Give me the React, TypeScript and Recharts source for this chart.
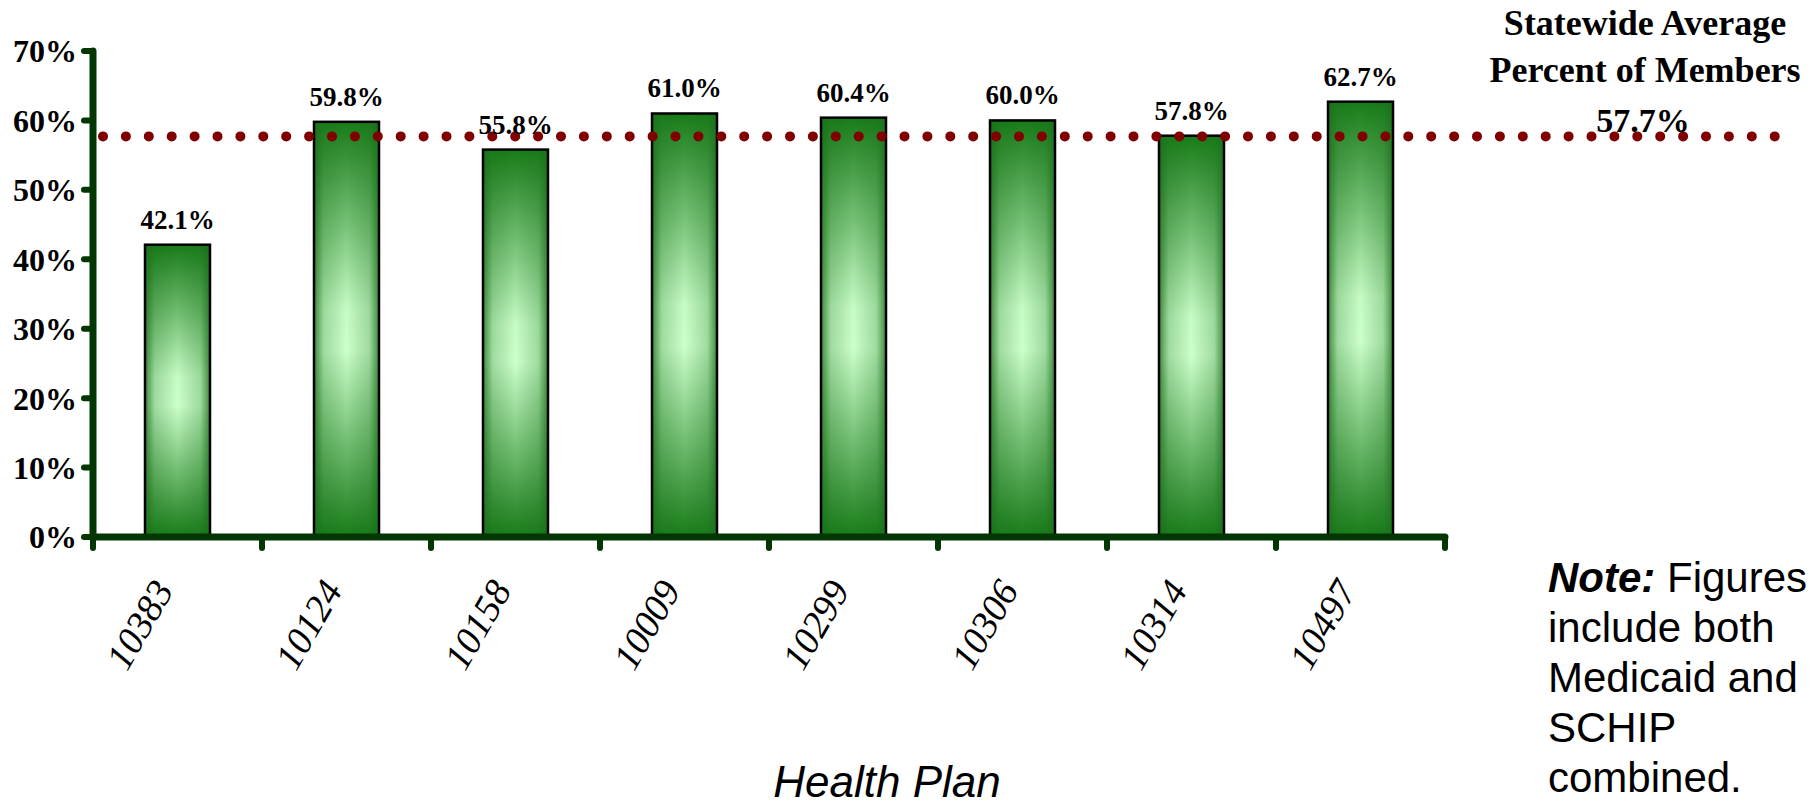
import React from "react";
import { BarChart, Bar, XAxis, YAxis, ReferenceLine, LabelList } from "recharts";

// health plan ids along the x axis
const plans = ["10383", "10124", "10158", "10009", "10299", "10306", "10314", "10497"];
// percent of members per plan
const percentMembers = [42.1, 59.8, 55.8, 61.0, 60.4, 60.0, 57.8, 62.7];
const yTicks = [0, 10, 20, 30, 40, 50, 60, 70];
const statewideAverage = 57.7;
const averageTitle = ["Statewide Average", "Percent of Members"];
const noteLines = ["include both", "Medicaid and", "SCHIP", "combined."];

const rows = plans.map((plan, i) => ({ plan, value: percentMembers[i] }));

const axisGreen = "#023602";
const serif = "'Liberation Serif', 'Times New Roman', serif";
const sans = "'Liberation Sans', Arial, sans-serif";

const GradientBar = (props: any) => {
  const { x, y, width, height } = props;
  if (!height || height <= 0) return null;
  return (
    <g>
      <rect x={x} y={y} width={width} height={height} fill="url(#barVert)" />
      <rect x={x} y={y} width={width} height={height} fill="url(#barHorz)" />
      <rect x={x} y={y} width={width} height={height} fill="none" stroke="#000" strokeWidth={2.5} />
    </g>
  );
};

// label plus the little stubs that sit on the boundaries between plans
const PlanTick = (props: any) => {
  const { x, y, payload, index } = props;
  const half = payload.offset || 0;
  const stub = (sx: number) => (
    <line x1={sx} y1={y} x2={sx} y2={y + 11} stroke={axisGreen} strokeWidth={6} strokeLinecap="round" />
  );
  return (
    <g>
      {stub(x - half)}
      {index === plans.length - 1 && stub(x + half)}
      <g transform={`translate(${x - 3},${y + 53})`}>
        <text
          textAnchor="end"
          transform="rotate(-60)"
          fontFamily={serif}
          fontStyle="italic"
          fontSize={38}
          fill="#000"
        >
          {payload.value}
        </text>
      </g>
    </g>
  );
};

// dotted average line, carried on past the plot toward the legend text
const AverageLine = (props: any) => {
  const { x1, x2, y1 } = props;
  const span = x2 - x1;
  return (
    <line
      x1={x1 + 10}
      y1={y1}
      x2={x2 + span * 0.245}
      y2={y1}
      stroke="#800000"
      strokeWidth={10}
      strokeDasharray="0 22.9"
      strokeLinecap="round"
    />
  );
};

export default function App() {
  return (
    <div style={{ position: "fixed", left: 0, top: 0, width: 1816, height: 807, background: "#fff" }}>
      <BarChart
        width={1816}
        height={807}
        data={rows}
        margin={{ top: 51, right: 371, left: 0, bottom: 0 }}
        barSize={65}
      >
        <defs>
          <linearGradient id="barVert" x1="0" y1="0" x2="0" y2="1">
            <stop offset="0%" stopColor="#187c18" />
            <stop offset="45%" stopColor="#c6fbc6" />
            <stop offset="55%" stopColor="#ccffcc" />
            <stop offset="100%" stopColor="#187c18" />
          </linearGradient>
          <linearGradient id="barHorz" x1="0" y1="0" x2="1" y2="0">
            <stop offset="0%" stopColor="#1a6e1a" stopOpacity={0.8} />
            <stop offset="15%" stopColor="#1a6e1a" stopOpacity={0.25} />
            <stop offset="50%" stopColor="#1a6e1a" stopOpacity={0} />
            <stop offset="85%" stopColor="#1a6e1a" stopOpacity={0.25} />
            <stop offset="100%" stopColor="#1a6e1a" stopOpacity={0.8} />
          </linearGradient>
        </defs>
        <XAxis
          dataKey="plan"
          type="category"
          height={270}
          axisLine={{ stroke: axisGreen, strokeWidth: 7, strokeLinecap: "round" }}
          tickLine={false}
          tickSize={0}
          tickMargin={0}
          interval={0}
          tick={<PlanTick />}
        />
        <YAxis
          type="number"
          domain={[0, 70]}
          ticks={yTicks}
          width={93}
          tickSize={9}
          tickMargin={7}
          tickFormatter={(v: number) => `${v}%`}
          tick={{ fill: "#000", fontSize: 32, fontWeight: "bold", fontFamily: serif }}
          axisLine={{ stroke: axisGreen, strokeWidth: 7, strokeLinecap: "round" }}
          tickLine={{ stroke: axisGreen, strokeWidth: 6, strokeLinecap: "round" }}
        />
        <Bar dataKey="value" shape={<GradientBar />} isAnimationActive={false}>
          <LabelList
            dataKey="value"
            position="top"
            offset={16}
            formatter={(v: any) => `${Number(v).toFixed(1)}%`}
            fill="#000"
            fontSize={27}
            fontWeight="bold"
            fontFamily={serif}
          />
        </Bar>
        <ReferenceLine y={statewideAverage} shape={<AverageLine />} />
      </BarChart>
      <svg
        width={1816}
        height={807}
        style={{ position: "absolute", left: 0, top: 0, pointerEvents: "none" }}
      >
        <g fontFamily={serif} fontWeight="bold" fill="#000" textAnchor="middle">
          <text x={1645} y={35} fontSize={36}>{averageTitle[0]}</text>
          <text x={1645} y={82} fontSize={36}>{averageTitle[1]}</text>
          <text x={1643} y={132} fontSize={34}>{`${statewideAverage.toFixed(1)}%`}</text>
        </g>
        <g fontFamily={sans} fontSize={42} fill="#000">
          <text x={1548} y={592}>
            <tspan fontWeight="bold" fontStyle="italic">Note:</tspan>
            <tspan> Figures</tspan>
          </text>
          {noteLines.map((line, i) => (
            <text key={line} x={1548} y={642 + i * 50}>
              {line}
            </text>
          ))}
        </g>
        <text x={887} y={797} fontFamily={sans} fontStyle="italic" fontSize={44} textAnchor="middle" fill="#000">
          Health Plan
        </text>
      </svg>
    </div>
  );
}
